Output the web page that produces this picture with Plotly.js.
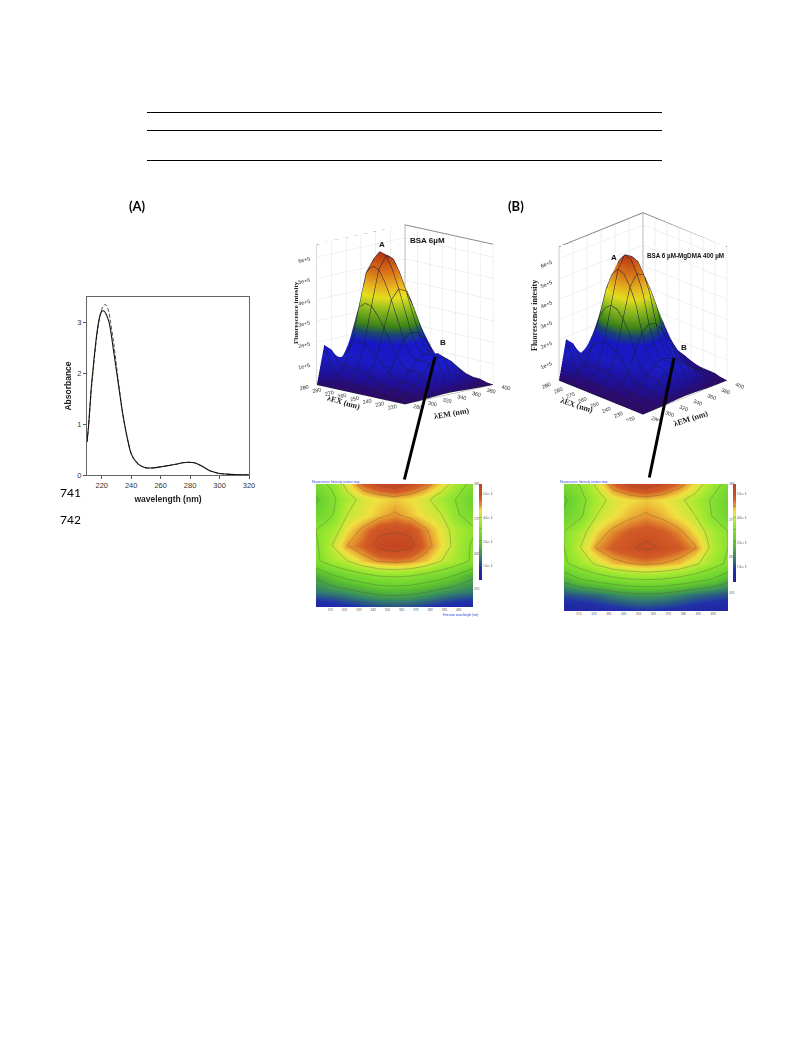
<!DOCTYPE html>
<html><head><meta charset="utf-8">
<script src="https://cdn.plot.ly/plotly-3.0.1.min.js"></script>
<style>html,body{margin:0;padding:0;background:#fff}</style></head>
<body><div id="chart" style="width:793px;height:1057px"></div>
<script>
// ---- absorbance spectrum
const wavelength=[210,211,212,213,214,215,216,217,218,219,220,221,222,223,224,225,226,228,230,232,234,236,238,240,242,244,246,248,250,255,260,265,270,275,279,283,287,290,293,296,300,305,310,320];
const absSolid=[0.65,0.95,1.35,1.75,2.05,2.35,2.62,2.85,3.03,3.15,3.22,3.23,3.21,3.16,3.09,3.0,2.85,2.45,2.05,1.65,1.25,0.92,0.64,0.42,0.31,0.24,0.19,0.16,0.14,0.14,0.16,0.185,0.21,0.24,0.25,0.24,0.19,0.14,0.09,0.06,0.03,0.017,0.01,0.005];
const absDashed=[0.65,0.93,1.32,1.7,2.0,2.3,2.57,2.8,3.0,3.15,3.26,3.32,3.35,3.34,3.29,3.18,3.0,2.62,2.15,1.68,1.25,0.92,0.64,0.42,0.31,0.24,0.19,0.16,0.14,0.14,0.16,0.185,0.21,0.24,0.25,0.24,0.19,0.14,0.09,0.06,0.03,0.017,0.01,0.005];
// ---- 3D surfaces (units of 1e5)
const exValues=[220,225,230,235,240,245,250,255,260,265,270,275,280,285,290];
const emValues=[280,290,300,310,320,330,340,350,360,370,380,390,400];
const surfaceBSA=[
[0,.01,.02,.04,.06,.08,.09,.08,.06,.04,.03,.02,.01],
[0,.03,.10,.25,.5,.75,.85,.8,.6,.4,.25,.1,.05],
[0,.05,.2,.5,.95,1.4,1.62,1.55,1.28,.9,.55,.3,.14],
[0,.07,.24,.55,1.05,1.5,1.72,1.66,1.38,.95,.58,.32,.15],
[0,.06,.23,.53,1.0,1.43,1.62,1.55,1.25,.84,.52,.28,.15],
[0,.07,.26,.61,1.15,1.67,1.86,1.79,1.45,1.02,.63,.33,.17],
[0,.10,.35,.83,1.56,2.27,2.52,2.42,1.97,1.39,.86,.45,.23],
[0,.14,.49,1.15,2.16,3.13,3.48,3.34,2.71,1.91,1.18,.63,.31],
[0,.18,.62,1.47,2.75,4.0,4.44,4.26,3.46,2.44,1.51,.80,.40],
[0,.21,.74,1.74,3.27,4.75,5.28,5.07,4.12,2.90,1.80,.95,.48],
[0,.24,.82,1.94,3.65,5.29,5.88,5.64,4.59,3.23,2.0,1.06,.53],
[0,.24,.84,1.98,3.72,5.4,6,5.76,4.68,3.3,2.04,1.08,.54],
[0,.45,.9,1.84,3.46,5.02,5.58,5.36,4.35,3.07,1.90,1.0,.50],
[0,1.0,1.0,1.25,2.31,3.35,3.72,3.57,2.90,2.05,1.26,.67,.33],
[0,1.8,1.5,.9,1.12,1.62,1.8,1.73,1.40,.99,.61,.32,.16]];
const surfaceMg=[
[0,.01,.02,.03,.05,.07,.08,.07,.05,.03,.02,.01,.01],
[0,.03,.08,.21,.42,.64,.72,.68,.51,.34,.21,.08,.04],
[0,.04,.17,.42,.81,1.19,1.38,1.32,1.09,.76,.47,.25,.12],
[0,.06,.2,.47,.89,1.28,1.46,1.41,1.17,.81,.49,.27,.13],
[0,.05,.2,.45,.85,1.22,1.38,1.32,1.06,.71,.44,.24,.13],
[0,.07,.26,.62,1.17,1.70,1.9,1.82,1.48,1.04,.65,.34,.17],
[0,.12,.41,.96,1.80,2.61,2.9,2.78,2.26,1.60,.99,.52,.26],
[0,.17,.60,1.42,2.67,3.87,4.3,4.13,3.35,2.37,1.46,.77,.39],
[0,.21,.72,1.70,3.19,4.64,5.15,4.94,4.02,2.83,1.75,.93,.46],
[0,.23,.80,1.89,3.55,5.15,5.72,5.49,4.46,3.15,1.94,1.03,.51],
[0,.23,.82,1.93,3.63,5.27,5.85,5.62,4.56,3.22,1.99,1.05,.53],
[0,.22,.76,1.80,3.38,4.91,5.45,5.23,4.25,3.0,1.85,.98,.49],
[0,.45,.75,1.49,2.79,4.05,4.5,4.32,3.51,2.48,1.53,.81,.41],
[0,1.05,.95,1.0,1.86,2.7,3.0,2.88,2.34,1.65,1.02,.54,.27],
[0,1.9,1.55,.9,1.08,1.58,1.75,1.68,1.37,.96,.60,.32,.16]];
const zTicks=[0,1,2,3,4,5,6];
const zTickText=['0','1e+5','2e+5','3e+5','4e+5','5e+5','6e+5'];
const frameEM=[280,400,400,400,400,400];
const frameEX=[290,290,220,290,290,290];
const frameZ=[6.6,6.6,6.6,6.6,6.6,0];
// ---- contour insets
const contourX=[300,311,322,333,344,355,366,377,388,399,410];
const contourY=[280,275.6,271.3,266.9,262.5,258.1,253.8,249.4,245];
const contourBSA=[
[50,56,70,84,92,96,90,82,72,60,50],
[40,51,62,69,72,74,72,68,60,53,44],
[46,53,66,70,75,79,75,70,66,55,48],
[54,60,72,80,88,89,88,79,70,62,56],
[52,66,78,84,93,96,93,82,72,62,52],
[52,60,66,74,79,81,79,74,66,60,52],
[32,40,46,50,54,55,54,50,46,40,32],
[22,24,27,31,34,35,34,31,27,24,22],
[4,6,9,12,15,16,15,12,9,6,4]];
const contourMg=[
[48,55,68,83,92,96,90,82,72,60,50],
[40,50,62,69,72,74,72,68,62,53,44],
[44,52,66,71,76,79,76,71,66,54,46],
[54,62,73,80,85,87,85,80,72,62,54],
[54,66,79,85,89,92,89,85,79,64,54],
[52,60,68,75,78,80,78,75,68,60,52],
[34,42,47,51,54,55,54,51,47,42,34],
[16,18,20,24,27,28,27,24,20,18,16],
[3,4,6,8,10,11,10,8,6,4,3]];
const contourXTicks=[310,320,330,340,350,360,370,380,390,400];
const contourYTicks=[280,270,260,250];

const W=793,H=1057;
const fx=p=>p/W, fy=p=>1-p/H;
const surfScale=[[0,'#2c0a66'],[.03,'#2a0c7a'],[.08,'#20109a'],[.2,'#1c1cc8'],[.34,'#1818d0'],[.41,'#1a4a78'],[.47,'#3f8a18'],[.58,'#90c020'],[.68,'#eee820'],[.75,'#f0c020'],[.86,'#e07818'],[1,'#b83010']];
const contScale=[[0,'#2020a0'],[.12,'#2030a8'],[.2,'#2a6a80'],[.28,'#3f9a50'],[.38,'#5cc030'],[.42,'#66cf30'],[.54,'#88e030'],[.6,'#a0e830'],[.66,'#c4e838'],[.72,'#f0e040'],[.78,'#e89c30'],[.84,'#d25c26'],[.92,'#c84a22'],[1,'#c04020']];

function surf(z,scene){return {type:'surface',x:emValues,y:exValues,z:z,scene:scene,cmin:0,cmax:6,colorscale:surfScale,showscale:false,
 lighting:{ambient:.95,diffuse:.15,specular:0,roughness:1,fresnel:0},
 contours:{x:{show:true,start:280,end:400,size:10,color:'#1a1a40',width:1},y:{show:true,start:220,end:290,size:10,color:'#1a1a40',width:1},z:{show:false}}};}
function frame(scene){return {type:'scatter3d',mode:'lines',x:frameEM,y:frameEX,z:frameZ,scene:scene,line:{color:'#8a8a8a',width:2},showlegend:false};}
function axis3d(range,tv,tt){return {range:range,tickvals:tv,ticktext:tt,title:{text:''},showbackground:false,showgrid:true,gridcolor:'#e2e2e2',gridwidth:1,showline:true,linecolor:'#999',zeroline:false,ticks:'',showspikes:false,tickfont:{family:'Liberation Sans',size:8,color:'#333'}};}
function cont(z,xa,ya,cbx,cby,cblen){return {type:'contour',x:contourX,y:contourY,z:z,xaxis:xa,yaxis:ya,zmin:0,zmax:100,colorscale:contScale,zsmooth:'best',
 contours:{coloring:'heatmap',start:18,end:90,size:12,showlines:true},line:{color:'rgba(80,80,50,.55)',width:.6,smoothing:0},
 colorbar:{x:cbx,y:cby,xanchor:'left',yanchor:'top',len:cblen,thickness:3,outlinewidth:0,tickvals:[15,40,65,90],ticktext:['1.0e+5','2.5e+5','4.0e+5','5.5e+5'],ticks:'',tickfont:{size:3,color:'#444'},xpad:0,ypad:0}};}

const traces=[
 {type:'scatter',mode:'lines',x:wavelength,y:absDashed,xaxis:'x',yaxis:'y',line:{color:'#222',width:.8,dash:'4px,2px',shape:'spline'},showlegend:false},
 {type:'scatter',mode:'lines',x:wavelength,y:absSolid,xaxis:'x',yaxis:'y',line:{color:'#111',width:1.1,shape:'spline'},showlegend:false},
 surf(surfaceBSA,'scene'),frame('scene'),
 surf(surfaceMg,'scene2'),frame('scene2'),
 cont(contourBSA,'x2','y2',fx(479),fy(484),96/H),
 cont(contourMg,'x3','y3',fx(733),fy(484),98/H)
];
const tickAbs={family:'Liberation Sans',size:7.5,color:'#333'};
function tinyX(l,r,anch){return {domain:[fx(l),fx(r)],anchor:anch,range:[300,410],tickvals:contourXTicks,ticks:'',tickfont:{size:3,color:'#444'},showline:false,showgrid:false,zeroline:false};}
function tinyY(t,b,anch){return {domain:[fy(b),fy(t)],anchor:anch,side:'right',range:[245,280],tickvals:contourYTicks,ticks:'',tickfont:{size:3,color:'#444'},showline:false,showgrid:false,zeroline:false};}
const evenLine=(y)=>({type:'line',xref:'paper',yref:'paper',x0:fx(147),x1:fx(662),y0:fy(y),y1:fy(y),line:{color:'#000',width:1}});
function txt(t,x,y,o){return Object.assign({text:t,x:fx(x),y:fy(y),xref:'paper',yref:'paper',showarrow:false,xanchor:'center',yanchor:'middle',font:{family:'Liberation Sans',size:8,color:'#111'}},o||{});}
const timesL={family:'Liberation Serif',size:7,color:'#222'};
const times={family:'Liberation Serif',size:8,color:'#222'};
const labelFont={family:'Lato',size:12,color:'#000'};
const headFont={family:'Lato',size:13,color:'#000',weight:700};
function pointer(x0,y0,x1,y1){return {x:fx(x0),y:fy(y0),xref:'paper',yref:'paper',ax:x1-x0,ay:y1-y0,axref:'pixel',ayref:'pixel',text:'',showarrow:true,arrowhead:0,arrowwidth:3,arrowcolor:'#000',standoff:0,startstandoff:0};}
const layout={width:W,height:H,margin:{l:0,r:0,t:0,b:0},paper_bgcolor:'#fff',plot_bgcolor:'#fff',showlegend:false,
 xaxis:{domain:[fx(87),fx(249)],anchor:'y',range:[210,320],tickvals:[220,240,260,280,300,320],ticks:'outside',ticklen:3,tickcolor:'#555',tickfont:tickAbs,showline:true,mirror:true,linecolor:'#666',linewidth:1,showgrid:false,zeroline:false,title:{text:'<b>wavelength (nm)</b>',font:{family:'Liberation Sans',size:8.5,color:'#222'},standoff:7}},
 yaxis:{domain:[fy(475),fy(297)],anchor:'x',range:[0,3.5],tickvals:[0,1,2,3],ticks:'outside',ticklen:3,tickcolor:'#555',tickfont:tickAbs,showline:true,mirror:true,linecolor:'#666',linewidth:1,showgrid:false,zeroline:false,title:{text:'<b>Absorbance</b>',font:{family:'Liberation Sans',size:8.5,color:'#222'},standoff:4}},
 xaxis2:tinyX(316,473,'y2'),yaxis2:tinyY(484,607,'x2'),
 xaxis3:tinyX(564,728,'y3'),yaxis3:tinyY(484,611,'x3'),
 scene:{domain:{x:[fx(279.5),fx(529.5)],y:[fy(421.5),fy(206.5)]},bgcolor:'rgba(0,0,0,0)',aspectmode:'manual',aspectratio:{x:1.16,y:1.16,z:1.34},
  camera:{projection:{type:'orthographic'},eye:{x:-1.35,y:-1.35,z:.43},center:{x:0,y:0,z:0},up:{x:0,y:0,z:1}},
  xaxis:axis3d([280,400],[280,300,320,340,360,380,400]),yaxis:axis3d([220,290],[220,230,240,250,260,270,280,290]),zaxis:axis3d([0,6.6],zTicks,zTickText)},
 scene2:{domain:{x:[fx(518),fx(768)],y:[fy(420.5),fy(205.5)]},bgcolor:'rgba(0,0,0,0)',aspectmode:'manual',aspectratio:{x:1.105,y:1.105,z:1.36},
  camera:{projection:{type:'orthographic'},eye:{x:-1.36,y:-1.36,z:.85},center:{x:0,y:0,z:0},up:{x:0,y:0,z:1}},
  xaxis:axis3d([280,400],[280,300,320,340,360,380,400]),yaxis:axis3d([220,290],[220,230,240,250,260,270,280,290]),zaxis:axis3d([0,6.6],zTicks,zTickText)},
 shapes:[evenLine(112.5),evenLine(130.5),evenLine(160.5)],
 annotations:[
  txt('(A)',137,206,{font:headFont}),
  txt('(B)',516,206,{font:headFont}),
  txt('741',70,492,{font:labelFont}),txt('742',70,519,{font:labelFont}),
  txt('<b>A</b>',382,245),txt('<b>B</b>',443,342),txt('<b>BSA 6µM</b>',427,241),
  txt('<b>A</b>',614,258),txt('<b>B</b>',684,347),txt('<b>BSA 6 µM-MgDMA 400 µM</b>',685.5,256,{font:{family:'Liberation Sans',size:6.3,color:'#111'}}),
  txt('<b>Fluorescence intesity</b>',296,313,{textangle:-90,font:timesL}),
  txt('<b>λEX (nm)</b>',344,402,{textangle:16,font:times}),
  txt('<b>λEM (nm)</b>',452,414,{textangle:-10,font:times}),
  txt('<b>Fluorescence intesity</b>',535,316,{textangle:-90,font:times}),
  txt('<b>λEX (nm)</b>',577,405,{textangle:18,font:times}),
  txt('<b>λEM (nm)</b>',691,418,{textangle:-18,font:times}),
  txt('Fluorescence Intensity contour map',336,482,{font:{size:3,color:'#3048d0',family:'Liberation Sans'}}),
  txt('Fluorescence Intensity contour map',584,482,{font:{size:3,color:'#3048d0',family:'Liberation Sans'}}),
  txt('Emission wavelength (nm)',460,615,{font:{size:3,color:'#3048d0',family:'Liberation Sans'}}),
  pointer(435,357,404,481),
  pointer(674,358,649,479)
 ]};
Plotly.newPlot('chart',traces,layout,{displayModeBar:false});
</script></body></html>
